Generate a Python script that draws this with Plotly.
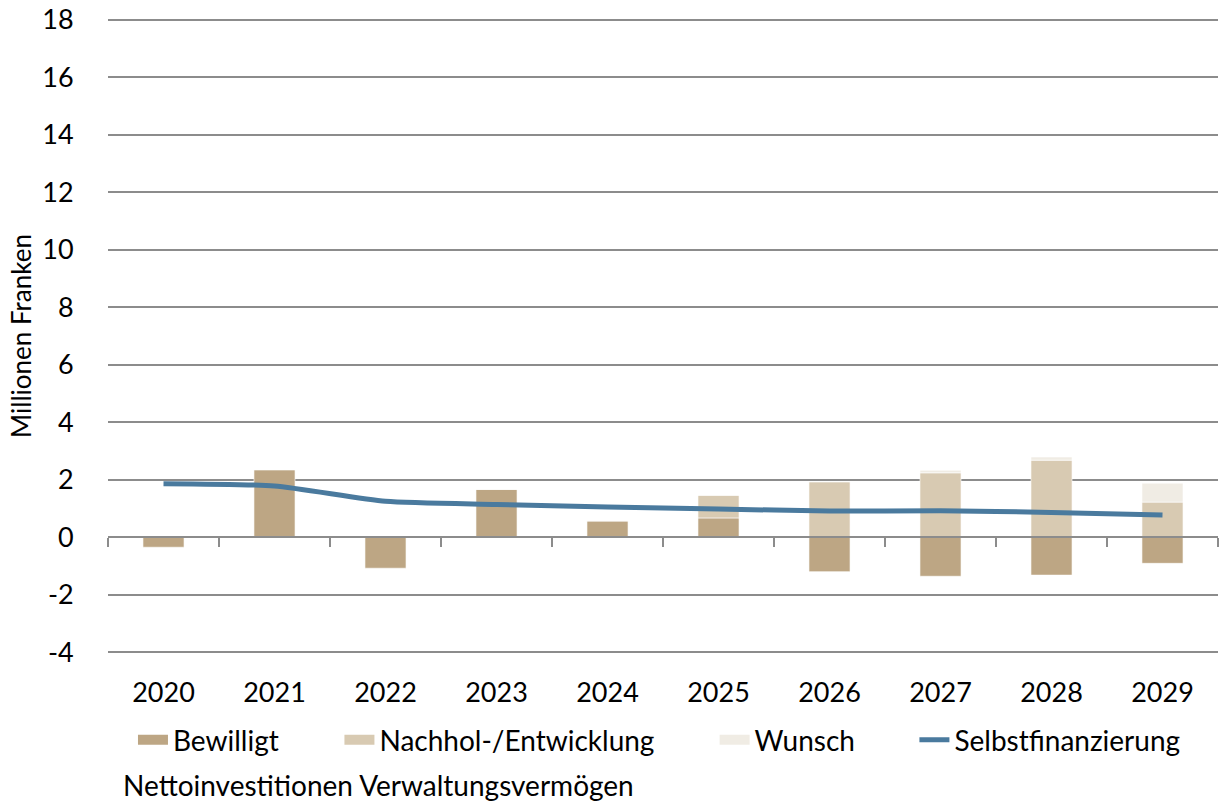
import plotly.graph_objects as go

years = ["2020", "2021", "2022", "2023", "2024", "2025", "2026", "2027", "2028", "2029"]
bewilligt = [-0.35, 2.35, -1.08, 1.67, 0.57, 0.67, -1.2, -1.36, -1.32, -0.91]
nachhol = [0, 0, 0, 0, 0, 0.79, 1.93, 2.24, 2.68, 1.22]
wunsch = [0, 0, 0, 0, 0, 0, 0, 0.09, 0.11, 0.66]
selbst = [1.86, 1.78, 1.25, 1.14, 1.05, 0.98, 0.91, 0.92, 0.86, 0.77]
y_ticks = list(range(-4, 19, 2))
y_ticktext = [str(v) for v in y_ticks]

FONT = "Lato"
GRID = "#8C8C8C"
C_BEW, C_NACH, C_WUN, C_SELB = "#BDA684", "#D8CAB2", "#F0ECE4", "#4A7A9E"

fig = go.Figure()
bar_line = dict(color="rgba(255,255,255,0.6)", width=1)
fig.add_trace(go.Bar(x=years, y=bewilligt, name="Bewilligt", showlegend=False,
                     marker=dict(color=C_BEW, line=bar_line)))
fig.add_trace(go.Bar(x=years, y=nachhol, name="Nachhol-/Entwicklung", showlegend=False,
                     marker=dict(color=C_NACH, line=bar_line)))
fig.add_trace(go.Bar(x=years, y=wunsch, name="Wunsch", showlegend=False,
                     marker=dict(color=C_WUN, line=bar_line)))
fig.add_trace(go.Scatter(x=years, y=selbst, name="Selbstfinanzierung", mode="lines", showlegend=False,
                         line=dict(color=C_SELB, width=5, shape="spline", smoothing=0.6)))
# legend entries (wide swatches like the reference), each in its own legend
legend_x = [0.0225, 0.2085, 0.5465, 0.7265]
for i, (name, col, w) in enumerate([("Bewilligt", C_BEW, 18), ("Nachhol-/Entwicklung", C_NACH, 18),
                                    ("Wunsch", C_WUN, 18), ("Selbstfinanzierung", C_SELB, 5)]):
    fig.add_trace(go.Scatter(x=[None], y=[None], name=name, mode="lines",
                             legend="legend" if i == 0 else f"legend{i+1}",
                             line=dict(color=col, width=w), hoverinfo="skip"))
# invisible helper trace for the axis at zero
fig.add_trace(go.Scatter(x=years, y=selbst, xaxis="x2", mode="lines", opacity=0,
                         showlegend=False, hoverinfo="skip"))

ymin, ymax = -4.1, 18.1
px_per_unit = 632 / 22.0
pad_px = 0.1 * px_per_unit
plot_h = 632 + 2 * pad_px
plot_bottom = 652 + pad_px
leg_y = (plot_bottom - 740) / plot_h
ann_y = (plot_bottom - 785) / plot_h
leg_common = dict(orientation="h", xanchor="left", y=leg_y, yanchor="middle",
                  font=dict(size=28), bgcolor="rgba(0,0,0,0)")
fig.update_layout(
    width=1220, height=804,
    margin=dict(l=108, r=2, t=20 - pad_px, b=152 - pad_px),
    plot_bgcolor="white", paper_bgcolor="white",
    barmode="relative", bargap=0.63,
    font=dict(family=FONT, size=27, color="#000000"),
    xaxis=dict(type="category", categoryorder="array", categoryarray=years,
               range=[-0.5, 9.5], showline=False, showgrid=False,
               ticks="outside", ticklen=14, tickcolor="rgba(0,0,0,0)",
               tickfont=dict(size=27)),
    xaxis2=dict(type="category", categoryorder="array", categoryarray=years,
                range=[-0.5, 9.5], overlaying="x", anchor="free",
                position=(0 - ymin) / (ymax - ymin), side="bottom",
                showline=True, linecolor=GRID, linewidth=2,
                ticks="outside", tickson="boundaries", ticklen=9, tickwidth=2,
                tickcolor=GRID, showticklabels=False, showgrid=False),
    yaxis=dict(range=[ymin, ymax], tickvals=y_ticks, ticktext=y_ticktext, showgrid=True,
               gridcolor=GRID, gridwidth=1.5, zeroline=False, showline=False,
               ticks="outside", ticklen=28, tickcolor="rgba(0,0,0,0)",
               tickfont=dict(size=27),
               title=dict(text="Millionen Franken", font=dict(size=26), standoff=3)),
    legend=dict(x=legend_x[0], **leg_common),
    legend2=dict(x=legend_x[1], **leg_common),
    legend3=dict(x=legend_x[2], **leg_common),
    legend4=dict(x=legend_x[3], **leg_common),
    annotations=[dict(text="Nettoinvestitionen Verwaltungsvermögen", xref="paper", yref="paper",
                      x=0.012, y=ann_y, xanchor="left", yanchor="middle",
                      showarrow=False, font=dict(size=28))],
)

fig.write_html("out.html", config={"displayModeBar": False},
               post_script="document.body.style.margin='0px';")
